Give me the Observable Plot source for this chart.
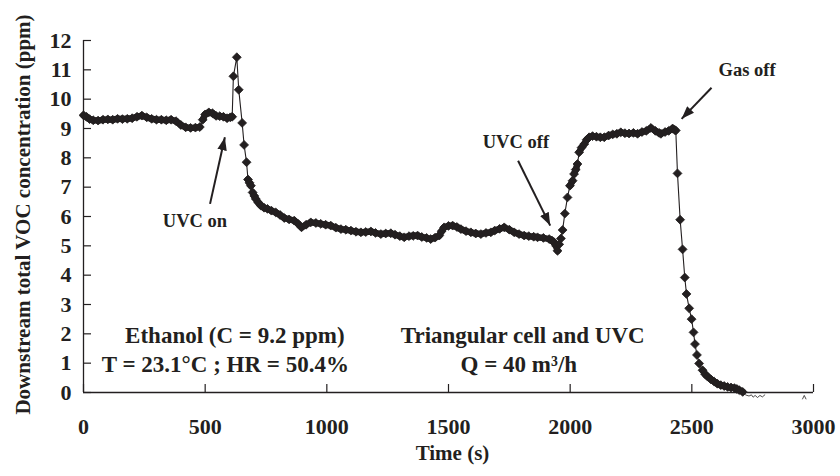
<!DOCTYPE html>
<html>
<head>
<meta charset="utf-8">
<script src="https://cdn.jsdelivr.net/npm/d3@7"></script>
<script src="https://cdn.jsdelivr.net/npm/@observablehq/plot@0.6"></script>
<style>
  html, body { margin: 0; padding: 0; background: #fff; }
</style>
</head>
<body>
<div id="chart"></div>
<script>
// ---- data ----
const time = [
  0, 12, 25, 40, 60, 80, 100, 120, 140, 160, 180, 200, 220, 240, 260, 280, 300, 320, 340, 360,
  380, 400, 420, 440, 460, 478, 490, 500, 515, 530, 545, 560, 575, 590, 603, 611,
  616, 630, 638, 652, 660, 670, 676, 682, 688, 695, 702, 708, 718, 729, 742, 756, 772, 790, 808, 825,
  845, 866, 882, 896, 915, 934, 955, 975, 995, 1016, 1037, 1058, 1078, 1099, 1120, 1140, 1160, 1181, 1200, 1222,
  1242, 1263, 1280, 1300, 1318, 1338, 1355, 1373, 1390, 1410, 1427, 1445, 1462, 1472, 1482, 1500, 1517, 1535, 1551, 1572,
  1592, 1612, 1633, 1654, 1674, 1690, 1710, 1729, 1750, 1770, 1790, 1811, 1830, 1850, 1866, 1890, 1914, 1925, 1934, 1942,
  1948, 1955, 1962, 1969, 1978, 1989, 1999, 2010, 2016, 2023, 2030, 2037, 2047, 2058, 2068, 2078, 2092, 2108, 2124, 2140,
  2158, 2175, 2192, 2208, 2225, 2242, 2260, 2277, 2295, 2313, 2332, 2350, 2365, 2373, 2390, 2405, 2421, 2430, 2434, 2441,
  2452, 2462, 2471, 2478, 2489, 2499, 2507, 2513, 2521, 2530, 2544, 2555, 2565, 2578, 2592, 2605, 2619, 2633, 2647, 2661,
  2675, 2685, 2695, 2709
];
const conc = [
  9.45, 9.40, 9.32, 9.28, 9.27, 9.30, 9.31, 9.30, 9.33, 9.32, 9.33, 9.35, 9.40, 9.44, 9.38, 9.33, 9.30, 9.30, 9.28, 9.30,
  9.25, 9.12, 9.04, 9.02, 9.03, 9.05, 9.30, 9.48, 9.55, 9.52, 9.43, 9.42, 9.40, 9.35, 9.38, 9.40,
  10.78, 11.43, 10.32, 9.19, 8.44, 7.85, 7.26, 7.15, 7.05, 6.82, 6.70, 6.60, 6.48, 6.37, 6.30, 6.26, 6.20, 6.14, 6.05, 5.95,
  5.90, 5.86, 5.75, 5.63, 5.72, 5.80, 5.78, 5.75, 5.72, 5.69, 5.62, 5.57, 5.55, 5.52, 5.48, 5.46, 5.47, 5.49, 5.44, 5.40,
  5.42, 5.43, 5.38, 5.33, 5.29, 5.33, 5.34, 5.35, 5.30, 5.27, 5.23, 5.28, 5.35, 5.50, 5.63, 5.68, 5.69, 5.64, 5.57, 5.50,
  5.46, 5.42, 5.40, 5.44, 5.46, 5.52, 5.58, 5.63, 5.55, 5.46, 5.40, 5.35, 5.33, 5.31, 5.29, 5.27, 5.23, 5.18, 5.12, 5.00,
  4.83, 5.05, 5.25, 5.54, 6.10, 6.65, 7.05, 7.22, 7.45, 7.60, 7.79, 8.19, 8.35, 8.47, 8.62, 8.70, 8.74, 8.72, 8.70, 8.70,
  8.76, 8.80, 8.82, 8.87, 8.84, 8.83, 8.85, 8.82, 8.88, 8.92, 9.02, 8.92, 8.85, 8.82, 8.88, 8.92, 9.00, 8.95, 8.93, 7.47,
  5.89, 4.88, 3.92, 3.36, 2.87, 2.50, 2.05, 1.65, 1.28, 0.99, 0.76, 0.62, 0.54, 0.45, 0.37, 0.30, 0.25, 0.22, 0.19, 0.17,
  0.15, 0.12, 0.08, 0.02
];
// unmarked trace after the last marker
const tailTime = [2709, 2720, 2735, 2745, 2752, 2760, 2770, 2780, 2790, 2800];
const tailConc = [0.02, -0.08, -0.12, -0.08, -0.16, -0.10, -0.17, -0.10, -0.15, -0.08];
const blipTime = [2955, 2962, 2969];
const blipConc = [-0.22, -0.10, -0.22];

const xTicks = [0, 500, 1000, 1500, 2000, 2500, 3000];
const yTicks = [0, 1, 2, 3, 4, 5, 6, 7, 8, 9, 10, 11, 12];

// event annotations
const eventLabels = ["UVC on", "UVC off", "Gas off"];
const eventTextX = [458, 1777, 2727];
const eventTextY = [5.86, 8.55, 10.98];
const arrowFromX = [520, 1786, 2581];
const arrowFromY = [6.43, 7.90, 10.39];
const arrowToX = [581, 1918, 2458];
const arrowToY = [8.70, 5.69, 9.33];

// condition notes
const noteLabels = ["Ethanol (C = 9.2 ppm)", "T = 23.1°C ; HR = 50.4%", "Triangular cell and UVC", "Q = 40 m³/h"];
const noteX = [622, 583, 1805, 1789];
const noteY = [1.95, 0.96, 1.95, 0.96];

const xTitle = "Time (s)";
const yTitle = "Downstream total VOC concentration (ppm)";

// ---- build tables ----
const series = time.map((t, i) => ({t, v: conc[i]}));
// consecutive, closely spaced samples (the dense, slow-changing stretches)
const denseSteps = d3.pairs(series)
  .filter(([a, b]) => b.t - a.t <= 25 && Math.abs(b.v - a.v) < 0.2)
  .map(([a, b]) => ({t1: a.t, v1: a.v, t2: b.t, v2: b.v}));
const tail = tailTime.map((t, i) => ({t, v: tailConc[i]}));
const blip = blipTime.map((t, i) => ({t, v: blipConc[i]}));
const events = eventLabels.map((label, i) => ({
  label, tx: eventTextX[i], ty: eventTextY[i],
  x1: arrowFromX[i], y1: arrowFromY[i], x2: arrowToX[i], y2: arrowToY[i]
}));
const notes = noteLabels.map((label, i) => ({label, x: noteX[i], y: noteY[i]}));

const ink = "#231f20";
const serif = "'Liberation Serif', 'Times New Roman', serif";

function solidHead(color, context) {
  const ns = "http://www.w3.org/2000/svg";
  const doc = (context && context.document) || document;
  const m = doc.createElementNS(ns, "marker");
  m.setAttribute("viewBox", "-13 -5 13 10");
  m.setAttribute("markerWidth", 13);
  m.setAttribute("markerHeight", 10);
  m.setAttribute("markerUnits", "userSpaceOnUse");
  m.setAttribute("orient", "auto");
  m.setAttribute("refX", 0);
  m.setAttribute("refY", 0);
  const p = doc.createElementNS(ns, "path");
  p.setAttribute("d", "M-13,-4.8L0,0L-13,4.8Z");
  p.setAttribute("fill", color);
  p.setAttribute("stroke", "none");
  m.appendChild(p);
  return m;
}

const chart = Plot.plot({
  width: 840,
  height: 476,
  marginLeft: 83,
  marginRight: 27,
  marginTop: 40,
  marginBottom: 84,
  x: {domain: [0, 3000]},
  y: {domain: [0, 12]},
  style: {fontFamily: serif, fontWeight: "bold", color: ink, background: "#fff"},
  marks: [
    // axis lines
    Plot.ruleY([0], {stroke: ink, strokeWidth: 1.3}),
    Plot.ruleX([0], {stroke: ink, strokeWidth: 1.3}),
    // inward tick marks
    Plot.tickX(xTicks, {x: d => d, stroke: ink, strokeWidth: 1.2, insetTop: 344}),
    Plot.tickY(yTicks, {y: d => d, stroke: ink, strokeWidth: 1.2, insetRight: 722}),
    // tick labels
    Plot.axisX({ticks: xTicks, tickFormat: d => String(d), tickSize: 0, tickPadding: 26, fontSize: 22, fontWeight: "bold", label: null, fill: ink}),
    Plot.axisY({ticks: yTicks, tickFormat: d => String(d), tickSize: 0, tickPadding: 12, fontSize: 22, fontWeight: "bold", label: null, fill: ink}),
    // axis titles
    Plot.text([xTitle], {frameAnchor: "bottom", dx: 4, dy: 67, fontSize: 21, fontWeight: "bold", fill: ink}),
    Plot.text([yTitle], {frameAnchor: "left", textAnchor: "middle", lineAnchor: "middle", dx: -60, dy: -2, rotate: -90, fontSize: 21, fontWeight: "bold", fill: ink}),
    // data
    Plot.line(tail, {x: "t", y: "v", stroke: ink, strokeWidth: 0.8}),
    Plot.line(blip, {x: "t", y: "v", stroke: ink, strokeWidth: 0.8}),
    Plot.line(series, {x: "t", y: "v", stroke: ink, strokeWidth: 1.1}),
    Plot.link(denseSteps, {x1: "t1", y1: "v1", x2: "t2", y2: "v2", stroke: ink, strokeWidth: 6.5, strokeLinecap: "round"}),
    Plot.dot(series, {x: "t", y: "v", symbol: "diamond2", r: 4, fill: ink, stroke: ink, strokeWidth: 0.8}),
    // annotations
    Plot.link(events, {x1: "x1", y1: "y1", x2: "x2", y2: "y2", stroke: ink, strokeWidth: 2, markerEnd: solidHead}),
    Plot.text(events, {x: "tx", y: "ty", text: "label", fontSize: 18.5, fontWeight: "bold", fill: ink}),
    Plot.text(notes, {x: "x", y: "y", text: "label", fontSize: 23, fontWeight: "bold", fill: ink})
  ]
});
document.getElementById("chart").appendChild(chart);
</script>
</body>
</html>
